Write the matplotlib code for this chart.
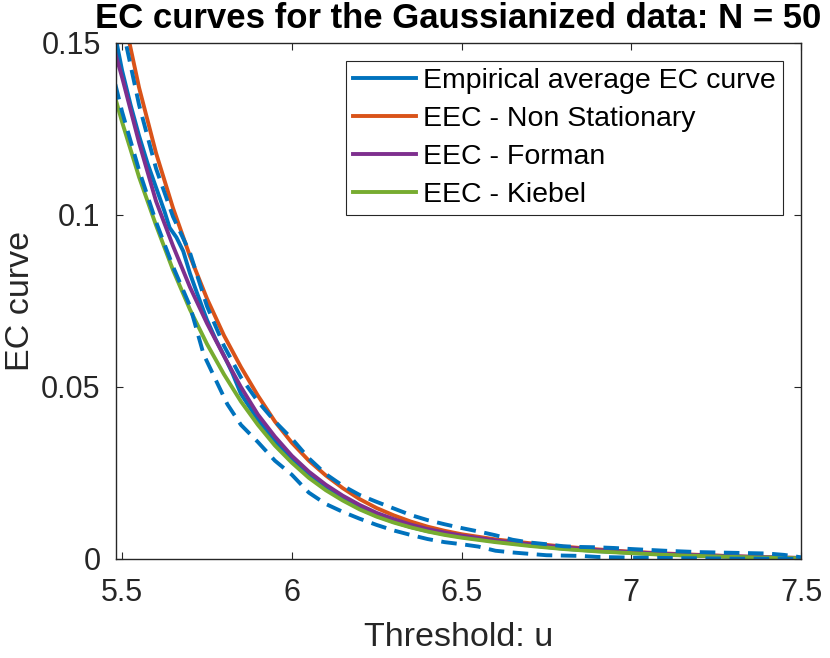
import matplotlib
matplotlib.use("Agg")
import matplotlib.pyplot as plt

plt.rcParams['font.family'] = ['Liberation Sans', 'DejaVu Sans']

# ---- data ----
u_grid = [5.48, 5.5, 5.55, 5.6, 5.65, 5.7, 5.75, 5.8, 5.85, 5.9, 5.95, 6.0, 6.05, 6.1,
          6.15, 6.2, 6.25, 6.3, 6.35, 6.4, 6.45, 6.5, 6.6, 6.7, 6.8, 6.9, 7.0, 7.1,
          7.2, 7.3, 7.4, 7.5]
eec_nonstat = [0.170, 0.160, 0.137, 0.118, 0.102, 0.088, 0.0757, 0.0650, 0.0558, 0.0475,
               0.0400, 0.0338, 0.0286, 0.0243, 0.0206, 0.0174, 0.0148, 0.0127, 0.0109,
               0.0094, 0.0082, 0.0072, 0.0057, 0.0046, 0.0036, 0.0028, 0.0021, 0.0016,
               0.0012, 0.0008, 0.0005, 0.0003]
eec_forman = [0.147, 0.140, 0.121, 0.104, 0.091, 0.079, 0.0685, 0.0590, 0.0500, 0.0420,
              0.0356, 0.0300, 0.0254, 0.0216, 0.0184, 0.0157, 0.0134, 0.0116, 0.0100,
              0.0087, 0.0077, 0.0068, 0.0054, 0.0043, 0.0034, 0.0026, 0.0020, 0.0015,
              0.0011, 0.0008, 0.0005, 0.0003]
eec_kiebel = [0.134, 0.127, 0.111, 0.097, 0.084, 0.0725, 0.0625, 0.0537, 0.0458, 0.0390,
              0.0330, 0.0280, 0.0236, 0.0200, 0.0170, 0.0144, 0.0123, 0.0106, 0.0092,
              0.0080, 0.0070, 0.0062, 0.0049, 0.0038, 0.0029, 0.0022, 0.0017, 0.0012,
              0.0009, 0.0006, 0.0004, 0.0002]

u_emp = [5.48, 5.5, 5.525, 5.55, 5.575, 5.6, 5.625, 5.64, 5.66, 5.68, 5.7, 5.72, 5.75,
         5.775, 5.8, 5.825, 5.85, 5.9, 5.95, 6.0, 6.05, 6.1, 6.15, 6.2, 6.25, 6.3, 6.35,
         6.4, 6.45, 6.5, 6.6, 6.7, 6.8, 6.9, 7.0, 7.1, 7.2, 7.3, 7.4, 7.5]
ec_emp = [0.152, 0.142, 0.132, 0.123, 0.115, 0.108, 0.101, 0.0963, 0.0935, 0.0895, 0.083,
          0.0775, 0.0695, 0.064, 0.0592, 0.054, 0.048, 0.0405, 0.0343, 0.0290, 0.0242,
          0.0205, 0.0174, 0.0147, 0.0125, 0.0108, 0.0093, 0.0081, 0.0072, 0.0064, 0.0051,
          0.0040, 0.0030, 0.0023, 0.0018, 0.0013, 0.0009, 0.0006, 0.0004, 0.0002]

u_upper = [5.48, 5.5, 5.55, 5.6, 5.65, 5.7, 5.75, 5.8, 5.85, 5.9, 5.95, 6.0, 6.05, 6.1,
           6.15, 6.2, 6.25, 6.3, 6.35, 6.4, 6.45, 6.5, 6.55, 6.6, 6.65, 6.7, 6.75, 6.8,
           6.85, 6.9, 6.95, 7.0, 7.1, 7.2, 7.3, 7.4, 7.45, 7.5]
ec_upper = [0.166, 0.155, 0.132, 0.1135, 0.0995, 0.0890, 0.0735, 0.0620, 0.0528, 0.0458,
            0.0400, 0.0350, 0.0293, 0.0247, 0.0213, 0.0186, 0.0166, 0.0147, 0.0128, 0.0113,
            0.0101, 0.0090, 0.0080, 0.0069, 0.0056, 0.0048, 0.0043, 0.0037, 0.0035, 0.0034,
            0.0032, 0.0029, 0.0024, 0.0020, 0.0018, 0.0016, 0.0012, 0.0005]

u_lower = [5.48, 5.5, 5.55, 5.6, 5.65, 5.7, 5.74, 5.78, 5.81, 5.85, 5.9, 5.95, 6.0, 6.05,
           6.1, 6.15, 6.2, 6.25, 6.3, 6.35, 6.4, 6.45, 6.5, 6.55, 6.6, 6.65, 6.7, 6.75,
           6.8, 6.85, 6.9, 7.0, 7.1, 7.2, 7.3, 7.4, 7.5]
ec_lower = [0.138, 0.130, 0.113, 0.098, 0.085, 0.0735, 0.0595, 0.0512, 0.0450, 0.0390,
            0.0340, 0.0286, 0.0245, 0.0193, 0.0160, 0.0137, 0.0117, 0.0099, 0.0083, 0.0070,
            0.0058, 0.0049, 0.0043, 0.0036, 0.0024, 0.0019, 0.0015, 0.0011, 0.0010, 0.0009,
            0.0006, 0.0004, 0.0003, 0.0002, 0.0001, 0.0001, 0.0000]

x_ticks = [5.5, 6, 6.5, 7, 7.5]
x_ticklabels = ["5.5", "6", "6.5", "7", "7.5"]
y_ticks = [0, 0.05, 0.1, 0.15]
y_ticklabels = ["0", "0.05", "0.1", "0.15"]

labels = ["Empirical average EC curve", "EEC - Non Stationary", "EEC - Forman", "EEC - Kiebel"]
c_blue, c_orange, c_purple, c_green = "#0072BD", "#D95319", "#7E2F8E", "#77AC30"
txt = "#262626"

# ---- figure ----
W, H = 830, 658
fig = plt.figure(figsize=(W / 100, H / 100), dpi=100)
L, R, T, B = 116, 801, 43, 559
ax = fig.add_axes([L / W, (H - B) / H, (R - L) / W, (B - T) / H])

lw = 2.8
l1, = ax.plot(u_emp, ec_emp, color=c_blue, lw=lw, label=labels[0])
l2, = ax.plot(u_grid, eec_nonstat, color=c_orange, lw=lw, label=labels[1])
l3, = ax.plot(u_grid, eec_forman, color=c_purple, lw=lw, label=labels[2])
l4, = ax.plot(u_grid, eec_kiebel, color=c_green, lw=lw, label=labels[3])
ax.plot(u_upper, ec_upper, color=c_blue, lw=lw, linestyle=(0, (4.0, 2.2)))
ax.plot(u_lower, ec_lower, color=c_blue, lw=lw, linestyle=(0, (4.0, 2.2)))

ax.set_xlim(5.482, 7.5)
ax.set_ylim(0, 0.15)
ax.set_xticks(x_ticks)
ax.set_xticklabels(x_ticklabels)
ax.set_yticks(y_ticks)
ax.set_yticklabels(y_ticklabels)

ax.tick_params(axis='both', direction='in', length=5, width=0.8, colors=txt,
               labelsize=22, top=True, right=True)
ax.tick_params(axis='x', pad=14)
ax.tick_params(axis='y', pad=11)
for s in ax.spines.values():
    s.set_color(txt)
    s.set_linewidth(1.0)

ax.set_xlabel("Threshold: u", fontsize=24.5, color=txt, labelpad=10)
ax.set_ylabel("EC curve", fontsize=24.5, color=txt, labelpad=4)
ax.set_title("EC curves for the Gaussianized data: N = 50", fontsize=25,
             fontweight='bold', color='black', pad=11)

leg = ax.legend(handles=[l1, l2, l3, l4], loc='upper right',
                bbox_to_anchor=((783 - L) / (R - L), (B - 61) / (B - T)),
                borderaxespad=0, fontsize=20.5, frameon=True, fancybox=False,
                edgecolor=txt, framealpha=1, handlelength=2.2, handletextpad=0.25,
                labelspacing=0.42, borderpad=0.25)
leg.get_frame().set_linewidth(0.8)

fig.savefig("out.png", dpi=100)
